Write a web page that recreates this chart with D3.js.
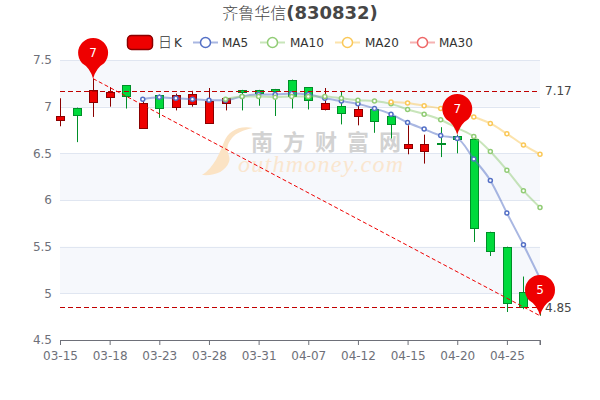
<!DOCTYPE html>
<html>
<head>
<meta charset="utf-8">
<script src="https://cdn.jsdelivr.net/npm/d3@7"></script>
<style>
  html, body { margin: 0; padding: 0; background: #fff; }
  svg { display: block; }
  text { font-family: "DejaVu Sans", sans-serif; }
</style>
</head>
<body>
<svg id="chart" width="600" height="400"></svg>
<script>
const dates = ["03-15","03-16","03-17","03-18","03-21","03-22","03-23","03-24","03-25","03-28",
  "03-29","03-30","03-31","04-01","04-06","04-07","04-08","04-11","04-12","04-13",
  "04-14","04-15","04-18","04-19","04-20","04-21","04-22","04-25","04-26","04-27"];
const dateTicks = ["03-15","03-18","03-23","03-28","03-31","04-07","04-12","04-15","04-20","04-25"];
const priceTicks = [4.5, 5, 5.5, 6, 6.5, 7, 7.5];

const open = [6.86,6.99,7.05,7.11,7.23,6.77,7.13,6.99,7.03,6.82,7.04,7.18,7.18,7.19,7.29,7.21,6.98,7.01,6.90,6.97,6.90,6.56,6.52,6.61,6.69,6.65,5.66,5.50,5.01,5.00];
const close = [6.90,6.91,7.18,7.16,7.11,7.04,6.99,7.12,7.14,7.06,7.09,7.16,7.15,7.17,7.12,7.07,7.04,6.94,6.97,6.84,6.81,6.60,6.60,6.60,6.66,5.70,5.46,4.90,4.85,4.90];
const low = [6.79,6.62,6.89,7.00,6.98,6.77,6.88,6.96,7.00,6.82,6.96,6.96,7.01,6.90,6.98,6.97,6.96,6.81,6.80,6.72,6.66,6.49,6.39,6.46,6.50,5.55,5.40,4.80,4.83,4.76];
const high = [7.09,6.99,7.30,7.21,7.23,7.09,7.13,7.14,7.17,7.20,7.09,7.18,7.18,7.19,7.29,7.21,7.20,7.16,7.05,6.97,6.90,6.80,6.70,6.78,6.70,6.65,5.66,5.50,5.18,5.00];

const ma5 = [null,null,null,null,null,7.08,7.10,7.09,7.08,7.07,7.07,7.11,7.13,7.13,7.14,7.13,7.09,7.06,7.03,6.98,6.92,6.83,6.76,6.69,6.66,6.44,6.21,5.86,5.52,5.16];
const ma10 = [null,null,null,null,null,null,null,null,null,null,7.08,7.11,7.11,7.10,7.11,7.11,7.11,7.09,7.07,7.06,7.03,6.97,6.92,6.86,6.77,6.68,6.52,6.32,6.10,5.92];
const ma20 = [null,null,null,null,null,null,null,null,null,null,null,null,null,null,null,null,null,null,null,null,7.05,7.04,7.01,6.98,6.94,6.89,6.82,6.71,6.59,6.49];

const maSeries = [
  { name: "MA5", values: ma5, color: "#5470c6" },
  { name: "MA10", values: ma10, color: "#91cc75" },
  { name: "MA20", values: ma20, color: "#fac858" }
];
const legendLines = [
  { name: "MA5", color: "#5470c6", x: 193, textX: 222 },
  { name: "MA10", color: "#91cc75", x: 260, textX: 290 },
  { name: "MA20", color: "#fac858", x: 335, textX: 365 },
  { name: "MA30", color: "#ee6666", x: 410, textX: 439 }
];

const refLevels = [7.17, 4.85];
const trendDates = ["03-17", "04-27"];
const trendPrices = [7.30, 4.76];
const pinDates = ["03-17", "04-20", "04-27"];
const pinPrices = [7.30, 6.70, 4.76];
const pinLabels = ["7", "7", "5"];

const upColor = "#ee0000", upBorder = "#8a0000";
const downColor = "#00da3c", downBorder = "#008f28";
const axisColor = "#6E7079", gridColor = "#E0E6F1";

const svg = d3.select("#chart");
const x = d3.scalePoint().domain(dates).range([60, 540]);
const y = d3.scaleLinear().domain([4.5, 7.5]).range([340, 60]);
const candleWidth = 8;
const crisp = v => Math.round(v) + 0.5;

// alternating bands, then split lines
svg.append("g").selectAll("rect")
  .data([[7, 7.5], [6, 6.5], [5, 5.5]])
  .join("rect")
  .attr("x", 60)
  .attr("width", 480)
  .attr("y", d => y(d[1]))
  .attr("height", d => y(d[0]) - y(d[1]))
  .attr("fill", "#F6F8FC");

svg.append("g").selectAll("line")
  .data(priceTicks.slice(1))
  .join("line")
  .attr("x1", 60).attr("x2", 540)
  .attr("y1", d => crisp(y(d))).attr("y2", d => crisp(y(d)))
  .attr("stroke", gridColor);

// watermark
const mark = svg.append("g");
mark.append("path")
  .attr("d", "M253,128 C238,125 228,132 224,142 C220,152 214,168 202,175 C215,176 225,172 229,162 C232,155 222,150 232,138 C236,133 243,130 253,128 Z")
  .attr("fill", "#fbe3c4");
mark.append("text")
  .attr("x", 251).attr("y", 150)
  .attr("textLength", 150)
  .style("font-family", '"Noto Sans CJK SC"')
  .style("font-size", "22px")
  .style("font-weight", "700")
  .attr("fill", "#d2d2d2")
  .text("南方财富网");
mark.append("text")
  .attr("x", 238).attr("y", 172)
  .attr("textLength", 165)
  .style("font-family", '"Liberation Serif"')
  .style("font-size", "24px")
  .style("font-style", "italic")
  .attr("fill", "#fae6cf")
  .text("outhmoney.com");

// axes
const xAxis = svg.append("g")
  .attr("transform", "translate(0,340)")
  .call(d3.axisBottom(x).tickValues(dateTicks).tickSize(5).tickPadding(6));
xAxis.select(".domain").attr("stroke", axisColor);
xAxis.selectAll("line").attr("stroke", axisColor);
xAxis.selectAll("text").attr("fill", axisColor).style("font-size", "12px");
xAxis.append("line").attr("x1", 540).attr("x2", 540).attr("y1", 0).attr("y2", 5).attr("stroke", axisColor);

const yAxis = svg.append("g")
  .attr("transform", "translate(60,0)")
  .call(d3.axisLeft(y).tickValues(priceTicks).tickSize(0).tickPadding(8).tickFormat(d3.format("~g")));
yAxis.select(".domain").remove();
yAxis.selectAll("text").attr("fill", axisColor).style("font-size", "12px");

// candles
const candles = svg.append("g").selectAll("g")
  .data(dates.map((d, i) => ({ date: d, o: open[i], c: close[i], l: low[i], h: high[i] })))
  .join("g");
candles.append("line")
  .attr("x1", d => crisp(x(d.date))).attr("x2", d => crisp(x(d.date)))
  .attr("y1", d => y(d.h)).attr("y2", d => y(d.l))
  .attr("stroke", d => d.c >= d.o ? upBorder : downBorder);
candles.append("rect")
  .attr("x", d => crisp(x(d.date)) - candleWidth / 2)
  .attr("width", candleWidth)
  .attr("y", d => crisp(y(Math.max(d.o, d.c))))
  .attr("height", d => Math.max(1, Math.round(Math.abs(y(d.o) - y(d.c)))))
  .attr("fill", d => d.c >= d.o ? upColor : downColor)
  .attr("stroke", d => d.c >= d.o ? upBorder : downBorder);

// moving averages
const maLine = d3.line()
  .defined(d => d.v !== null)
  .x(d => x(d.date))
  .y(d => y(d.v))
  .curve(d3.curveMonotoneX);

maSeries.forEach(s => {
  const pts = dates.map((d, i) => ({ date: d, v: s.values[i] }));
  svg.append("path")
    .attr("d", maLine(pts))
    .attr("fill", "none")
    .attr("stroke", s.color)
    .attr("stroke-width", 2)
    .attr("stroke-opacity", 0.5);
  svg.append("g").selectAll("circle")
    .data(pts.filter(p => p.v !== null))
    .join("circle")
    .attr("cx", d => x(d.date))
    .attr("cy", d => y(d.v))
    .attr("r", 2)
    .attr("fill", "#fff")
    .attr("stroke", s.color)
    .attr("stroke-width", 1.5);
});

// reference lines
svg.append("g").selectAll("line")
  .data(refLevels)
  .join("line")
  .attr("x1", 60).attr("x2", 540)
  .attr("y1", d => crisp(y(d))).attr("y2", d => crisp(y(d)))
  .attr("stroke", "#c00000")
  .attr("stroke-dasharray", "5,3");
svg.append("g").selectAll("text")
  .data(refLevels)
  .join("text")
  .attr("x", 545)
  .attr("y", d => y(d))
  .attr("dy", "0.35em")
  .attr("fill", "#464646")
  .style("font-size", "12px")
  .text(d => d3.format(".2f")(d));

svg.append("line")
  .attr("x1", x(trendDates[0])).attr("y1", y(trendPrices[0]))
  .attr("x2", x(trendDates[1])).attr("y2", y(trendPrices[1]))
  .attr("stroke", "#ee0000")
  .attr("stroke-width", 1)
  .attr("stroke-dasharray", "4,2.5");

// pins
const pins = svg.append("g").selectAll("g")
  .data(pinDates.map((d, i) => ({ date: d, price: pinPrices[i], label: pinLabels[i] })))
  .join("g")
  .attr("transform", d => `translate(${x(d.date)},${y(d.price)})`);
pins.append("path")
  .attr("d", "M0,0 Q-3,-11 -11,-15.5 A15,15 0 1 1 11,-15.5 Q3,-11 0,0 Z")
  .attr("fill", "#ee0000");
pins.append("text")
  .attr("y", -26)
  .attr("dy", "0.35em")
  .attr("text-anchor", "middle")
  .attr("fill", "#fff")
  .style("font-size", "12px")
  .text(d => d.label);

// legend
const legend = svg.append("g");
legend.append("rect")
  .attr("x", 127.5).attr("y", 35.5).attr("width", 25).attr("height", 14).attr("rx", 4)
  .attr("fill", upColor).attr("stroke", upBorder).attr("stroke-width", 1.5);
legend.append("text")
  .attr("x", 158).attr("y", 42.5).attr("dy", "0.35em")
  .attr("fill", "#333").style("font-size", "12px")
  .html('<tspan style="font-family:\'Noto Sans CJK SC\';font-size:14px;font-weight:300">日</tspan><tspan dx="2">K</tspan>');
legendLines.forEach(l => {
  legend.append("line")
    .attr("x1", l.x).attr("x2", l.x + 25).attr("y1", 42.5).attr("y2", 42.5)
    .attr("stroke", l.color).attr("stroke-width", 2).attr("stroke-opacity", 0.5);
  legend.append("circle")
    .attr("cx", l.x + 12.5).attr("cy", 42.5).attr("r", 5)
    .attr("fill", "#fff").attr("stroke", l.color).attr("stroke-width", 1.5);
  legend.append("text")
    .attr("x", l.textX).attr("y", 42.5).attr("dy", "0.35em")
    .attr("fill", "#333").style("font-size", "12px")
    .text(l.name);
});

// title
svg.append("text")
  .attr("x", 300).attr("y", 13).attr("dy", "0.35em")
  .attr("text-anchor", "middle")
  .attr("fill", "#464646")
  .style("font-size", "18px")
  .html('<tspan style="font-family:\'Noto Sans CJK SC\';font-size:16px;font-weight:300">齐鲁华信</tspan><tspan style="font-weight:700">(830832)</tspan>');
</script>
</body>
</html>
